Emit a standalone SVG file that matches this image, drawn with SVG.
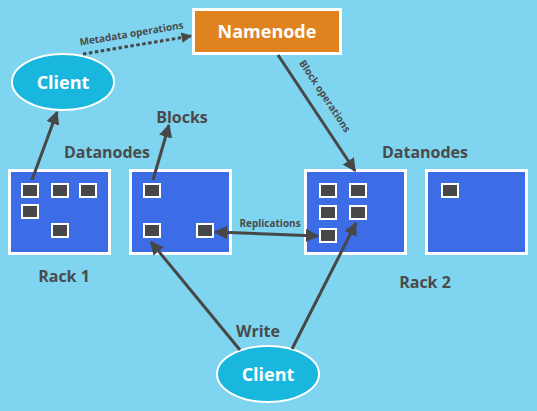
<svg xmlns="http://www.w3.org/2000/svg" width="537" height="411" viewBox="0 0 537 411">
<defs>
<style>
.bg{fill:#7fd4ef}
.rack{fill:#3d6de6;stroke:#fff;stroke-width:3}
.blk{fill:#474747;stroke:#fff;stroke-width:2}
.cli{fill:#19b6de;stroke:#fff;stroke-width:2}
.nn{fill:#e0821e;stroke:#fff;stroke-width:3}
.wt{font-family:"Open Sans","DejaVu Sans",sans-serif;font-weight:bold;fill:#fff;font-size:18px;text-anchor:middle}
.lb{font-family:"Open Sans","DejaVu Sans",sans-serif;font-weight:bold;fill:#4a4a4a;font-size:16px;text-anchor:middle}
.sm{font-family:"Open Sans","DejaVu Sans",sans-serif;font-weight:bold;fill:#4a4a4a;font-size:10px;text-anchor:middle}
.ln{stroke:#474747;stroke-width:3;fill:none}
</style>
<marker id="ah" viewBox="0 0 10 10" refX="9" refY="5" markerWidth="4.5" markerHeight="4.5" orient="auto-start-reverse" markerUnits="strokeWidth">
<path d="M0,0 L10,5 L0,10 z" fill="#474747"/>
</marker>
<marker id="ahd" viewBox="0 0 10 10" refX="9" refY="5" markerWidth="3.5" markerHeight="3.5" orient="auto" markerUnits="strokeWidth">
<path d="M0,0 L10,5 L0,10 z" fill="#474747"/>
</marker>
</defs>
<rect class="bg" x="0" y="0" width="537" height="411"/>

<g id="namenode">
<rect class="nn" x="193.5" y="9.5" width="147" height="44"/>
<text class="wt" x="267" y="38">Namenode</text>
</g>

<g id="client-top">
<ellipse class="cli" cx="63" cy="82" rx="51" ry="28"/>
<text class="wt" x="63" y="89">Client</text>
</g>

<g id="client-bottom">
<ellipse class="cli" cx="268" cy="374" rx="51" ry="28"/>
<text class="wt" x="268" y="381">Client</text>
</g>

<g id="rack1-node1">
<rect class="rack" x="9.5" y="170.5" width="100" height="83"/>
<rect class="blk" x="22" y="184" width="16" height="13"/>
<rect class="blk" x="52" y="184" width="16" height="13"/>
<rect class="blk" x="80" y="184" width="16" height="13"/>
<rect class="blk" x="22" y="205" width="16" height="13"/>
<rect class="blk" x="52" y="224" width="16" height="13"/>
</g>

<g id="rack1-node2">
<rect class="rack" x="130.5" y="170.5" width="100" height="83"/>
<rect class="blk" x="144" y="184" width="16" height="13"/>
<rect class="blk" x="144" y="224" width="16" height="13"/>
<rect class="blk" x="197" y="224" width="16" height="13"/>
</g>

<g id="rack2-node1">
<rect class="rack" x="305.5" y="170.5" width="100" height="83"/>
<rect class="blk" x="320" y="184" width="16" height="13"/>
<rect class="blk" x="350" y="184" width="16" height="13"/>
<rect class="blk" x="320" y="206" width="16" height="13"/>
<rect class="blk" x="350" y="206" width="16" height="13"/>
<rect class="blk" x="320" y="229" width="16" height="13"/>
</g>

<g id="rack2-node2">
<rect class="rack" x="426.5" y="170.5" width="100" height="83"/>
<rect class="blk" x="442" y="184" width="16" height="13"/>
</g>

<g id="labels">
<text class="lb" x="182" y="123">Blocks</text>
<text class="lb" x="107" y="158">Datanodes</text>
<text class="lb" x="425" y="158">Datanodes</text>
<text class="lb" x="64" y="282">Rack 1</text>
<text class="lb" x="425" y="288">Rack 2</text>
<text class="lb" x="258" y="337">Write</text>
</g>

<g id="connectors">
<line class="ln" x1="83" y1="54" x2="191" y2="36" stroke-width="4" stroke-dasharray="3.5 2.5" marker-end="url(#ahd)"/>
<text class="sm" transform="translate(132,37) rotate(-9.5)">Metadata operations</text>
<line class="ln" x1="278" y1="55" x2="355" y2="171" marker-end="url(#ah)"/>
<text class="sm" transform="translate(322,98) rotate(56.5)">Block operations</text>
<line class="ln" x1="32" y1="180" x2="57" y2="112" marker-end="url(#ah)"/>
<line class="ln" x1="153" y1="180" x2="169" y2="125" marker-end="url(#ah)"/>
<line class="ln" x1="215" y1="232" x2="318" y2="236" marker-start="url(#ah)" marker-end="url(#ah)"/>
<text class="sm" x="270" y="227">Replications</text>
<line class="ln" x1="240" y1="350" x2="151" y2="242" marker-end="url(#ah)"/>
<line class="ln" x1="292" y1="349" x2="356" y2="223" marker-end="url(#ah)"/>
</g>
</svg>
